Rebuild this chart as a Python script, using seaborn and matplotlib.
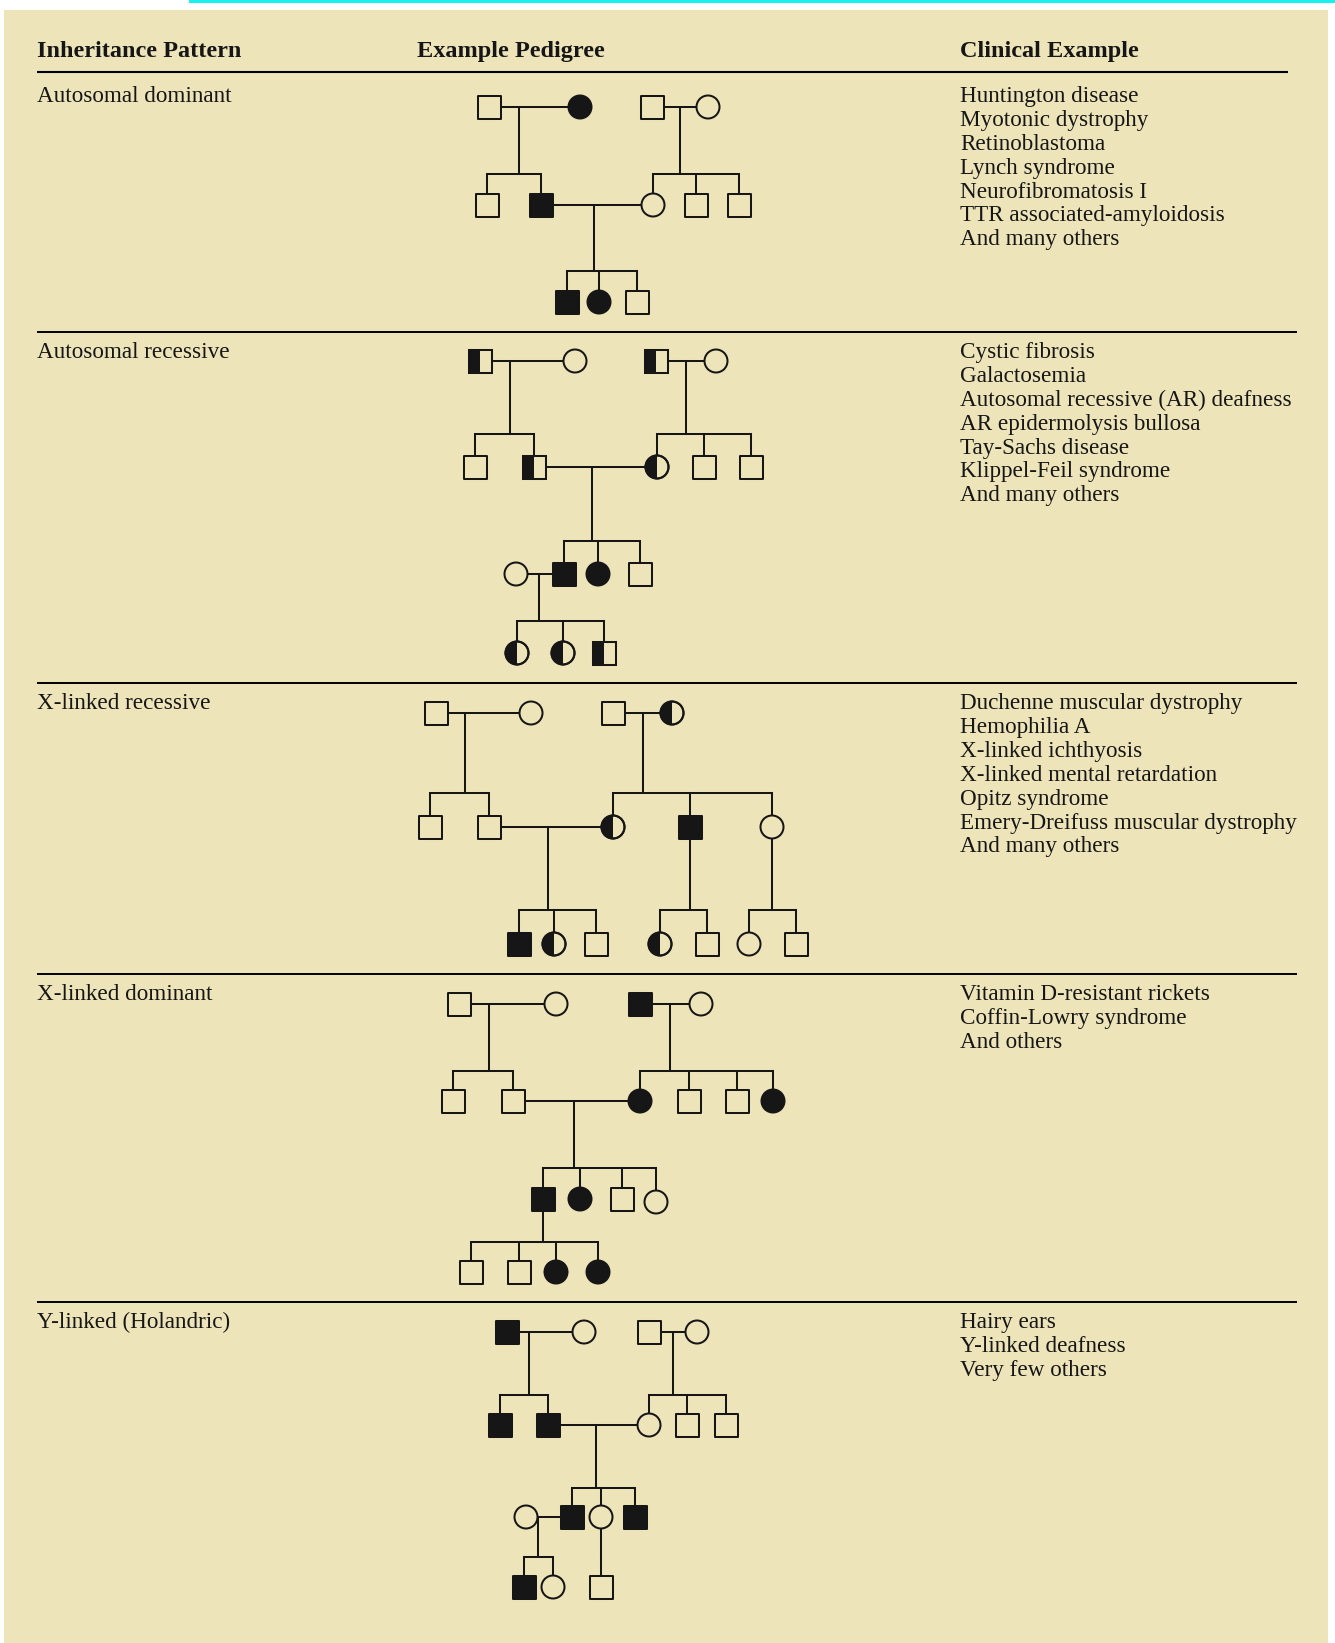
import numpy as np
import pandas as pd
import matplotlib
matplotlib.use("Agg")
import matplotlib.pyplot as plt
from matplotlib.patches import Rectangle, Wedge, Circle
import seaborn as sns

# ---------------- data ----------------
headers = ["Inheritance Pattern", "Example Pedigree", "Clinical Example"]
patterns = ["Autosomal dominant", "Autosomal recessive", "X-linked recessive",
            "X-linked dominant", "Y-linked (Holandric)"]
clinical = [
    ["Huntington disease", "Myotonic dystrophy", "Retinoblastoma", "Lynch syndrome",
     "Neurofibromatosis I", "TTR associated-amyloidosis", "And many others"],
    ["Cystic fibrosis", "Galactosemia", "Autosomal recessive (AR) deafness",
     "AR epidermolysis bullosa", "Tay-Sachs disease", "Klippel-Feil syndrome",
     "And many others"],
    ["Duchenne muscular dystrophy", "Hemophilia A", "X-linked ichthyosis",
     "X-linked mental retardation", "Opitz syndrome",
     "Emery-Dreifuss muscular dystrophy", "And many others"],
    ["Vitamin D-resistant rickets", "Coffin-Lowry syndrome", "And others"],
    ["Hairy ears", "Y-linked deafness", "Very few others"],
]

# Pedigree individuals (sex: M/F, status: A affected, U unaffected, C carrier)
ad_x = [489, 580, 652, 708, 487, 541, 653, 696, 739, 567, 599, 637]
ad_y = [107] * 4 + [205] * 5 + [302] * 3
ad_sex = "MFMF" + "MMFMM" + "MFM"
ad_stat = "UAUU" + "UAUUU" + "AAU"
ad_fam = [((0, 1), 519, 174, (4, 5)), ((2, 3), 680, 174, (6, 7, 8)),
          ((5, 6), 594, 271, (9, 10, 11))]

ar_x = [480, 575, 656, 716, 475, 534, 657, 704, 751, 516, 564, 598, 640, 517, 563, 604]
ar_y = [361] * 4 + [467] * 5 + [574] * 4 + [653] * 3
ar_sex = "MFMF" + "MMFMM" + "FMFM" + "FFM"
ar_stat = "CUCU" + "UCCUU" + "UAAU" + "CCC"
ar_fam = [((0, 1), 510, 434, (4, 5)), ((2, 3), 686, 434, (6, 7, 8)),
          ((5, 6), 592, 541, (10, 11, 12)), ((9, 10), 539, 621, (13, 14, 15))]

xr_x = [436, 531, 613, 672, 430, 489, 613, 690, 772, 519, 554, 596, 660, 707, 749, 796]
xr_y = [713] * 4 + [827] * 5 + [944] * 7
xr_sex = "MFMF" + "MMFMF" + "MFMFMFM"
xr_stat = "UUUC" + "UUCAU" + "ACUCUUU"
xr_fam = [((0, 1), 465, 793, (4, 5)), ((2, 3), 643, 793, (6, 7, 8)),
          ((5, 6), 548, 910, (9, 10, 11)), ((7,), 690, 910, (12, 13)),
          ((8,), 772, 910, (14, 15))]

xd_x = [459, 556, 640, 701, 453, 513, 640, 689, 737, 773, 543, 580, 622, 656, 471, 519, 556, 598]
xd_y = [1004] * 4 + [1101] * 6 + [1199, 1199, 1199, 1202] + [1272] * 4
xd_sex = "MFMF" + "MMFMMF" + "MFMF" + "MMFF"
xd_stat = "UUAU" + "UUAUUA" + "AAUU" + "UUAA"
xd_fam = [((0, 1), 489, 1071, (4, 5)), ((2, 3), 670, 1071, (6, 7, 8, 9)),
          ((5, 6), 574, 1168, (10, 11, 12, 13)), ((10,), 543, 1242, (14, 15, 16, 17))]

yl_x = [507, 584, 649, 697, 500, 548, 649, 687, 726, 526, 572, 601, 635, 524, 553, 601]
yl_y = [1332] * 4 + [1425] * 5 + [1517] * 4 + [1587] * 3
yl_sex = "MFMF" + "MMFMM" + "FMFM" + "MFM"
yl_stat = "AUUU" + "AAUUU" + "UAUA" + "AUU"
yl_fam = [((0, 1), 529, 1395, (4, 5)), ((2, 3), 673, 1395, (6, 7, 8)),
          ((5, 6), 596, 1488, (10, 11, 12)), ((9, 10), 538, 1557, (13, 14)),
          ((11,), 601, 1557, (15,))]

panels = [
    (ad_x, ad_y, ad_sex, ad_stat, ad_fam),
    (ar_x, ar_y, ar_sex, ar_stat, ar_fam),
    (xr_x, xr_y, xr_sex, xr_stat, xr_fam),
    (xd_x, xd_y, xd_sex, xd_stat, xd_fam),
    (yl_x, yl_y, yl_sex, yl_stat, yl_fam),
]

# ---------------- style ----------------
BG = "#EDE4B9"
INK = "#161616"
W, H = 1335, 1643
sns.set_theme(style="white")
plt.rcParams["font.family"] = ["Liberation Serif", "DejaVu Serif"]

fig = plt.figure(figsize=(W / 100, H / 100), dpi=100, facecolor="white")
ax = fig.add_axes([0, 0, 1, 1])
ax.set_facecolor("white")

# page background + cyan rule
ax.add_patch(Rectangle((4, 10), W - 4 - 7, H - 10, facecolor=BG, edgecolor="none", zorder=0))
ax.add_patch(Rectangle((189, 0), W - 189, 2.5, facecolor="#19F0F0", edgecolor="none", zorder=0))

# ---------------- build line segments and people ----------------
seg_rows = []
people_rows = []
seg_id = 0
for pi, (xs, ys, sx, st, fams) in enumerate(panels):
    for i in range(len(xs)):
        people_rows.append(dict(x=xs[i], y=ys[i], sex=sx[i], status=st[i]))
    for parents, dx, sib_y, kids in fams:
        if len(parents) == 2:
            a, b = parents
            cy = (ys[a] + ys[b]) / 2
            seg_rows += [dict(x=xs[a], y=cy, seg=seg_id), dict(x=xs[b], y=cy, seg=seg_id)]
            seg_id += 1
            top = cy
        else:
            top = ys[parents[0]]
        seg_rows += [dict(x=dx, y=top, seg=seg_id), dict(x=dx, y=sib_y, seg=seg_id)]
        seg_id += 1
        kx = [xs[k] for k in kids] + [dx]
        if max(kx) > min(kx):
            seg_rows += [dict(x=min(kx), y=sib_y, seg=seg_id), dict(x=max(kx), y=sib_y, seg=seg_id)]
            seg_id += 1
        for k in kids:
            seg_rows += [dict(x=xs[k], y=sib_y, seg=seg_id), dict(x=xs[k], y=ys[k], seg=seg_id)]
            seg_id += 1

segs = pd.DataFrame(seg_rows)
people = pd.DataFrame(people_rows)

LW = 1.45
sns.lineplot(data=segs, x="x", y="y", units="seg", estimator=None, sort=False,
             color=INK, linewidth=LW, legend=False, ax=ax, zorder=2,
             solid_capstyle="projecting")

side_px = 23.0
side_pt = side_px * 72 / 100
sns.scatterplot(data=people, x="x", y="y", style="sex", markers={"M": "s", "F": "o"},
                hue="status", palette={"A": INK, "U": BG, "C": BG},
                s=side_pt ** 2, edgecolor=INK, linewidth=LW, legend=False, ax=ax, zorder=3)

# carriers: left half filled
a = side_px / 2
for _, r in people[people.status == "C"].iterrows():
    if r.sex == "M":
        ax.add_patch(Rectangle((r.x - a, r.y - a), a, 2 * a, facecolor=INK, edgecolor="none", zorder=4))
        ax.add_patch(Rectangle((r.x - a, r.y - a), 2 * a, 2 * a, fill=False, edgecolor=INK, lw=LW, zorder=5))
    else:
        ax.add_patch(Wedge((r.x, r.y), a, 90, 270, facecolor=INK, edgecolor="none", zorder=4))
        ax.add_patch(Circle((r.x, r.y), a, fill=False, edgecolor=INK, lw=LW, zorder=5))

# ---------------- text and rules ----------------
header_x = [37, 417, 960]
for hx, h in zip(header_x, headers):
    ax.text(hx, 57, h, fontsize=17.5, fontweight="bold", color=INK, va="baseline", ha="left")
ax.plot([37, 1288], [72, 72], color="black", lw=1.5, solid_capstyle="butt", zorder=2)

row_lines = [72, 332, 683, 974, 1302]
for ri, (lab, items) in enumerate(zip(patterns, clinical)):
    base = row_lines[ri] + (30 if ri == 0 else 26)
    if ri > 0:
        ax.plot([37, 1297], [row_lines[ri], row_lines[ri]], color="black", lw=1.4,
                solid_capstyle="butt", zorder=2)
    ax.text(37, base, lab, fontsize=16.7, color=INK, va="baseline", ha="left")
    for j, it in enumerate(items):
        ax.text(960, base + j * 23.9, it, fontsize=16.7, color=INK, va="baseline", ha="left")

ax.set_xlim(0, W)
ax.set_ylim(H, 0)
ax.axis("off")
fig.savefig("out.png", dpi=100, facecolor="white")
